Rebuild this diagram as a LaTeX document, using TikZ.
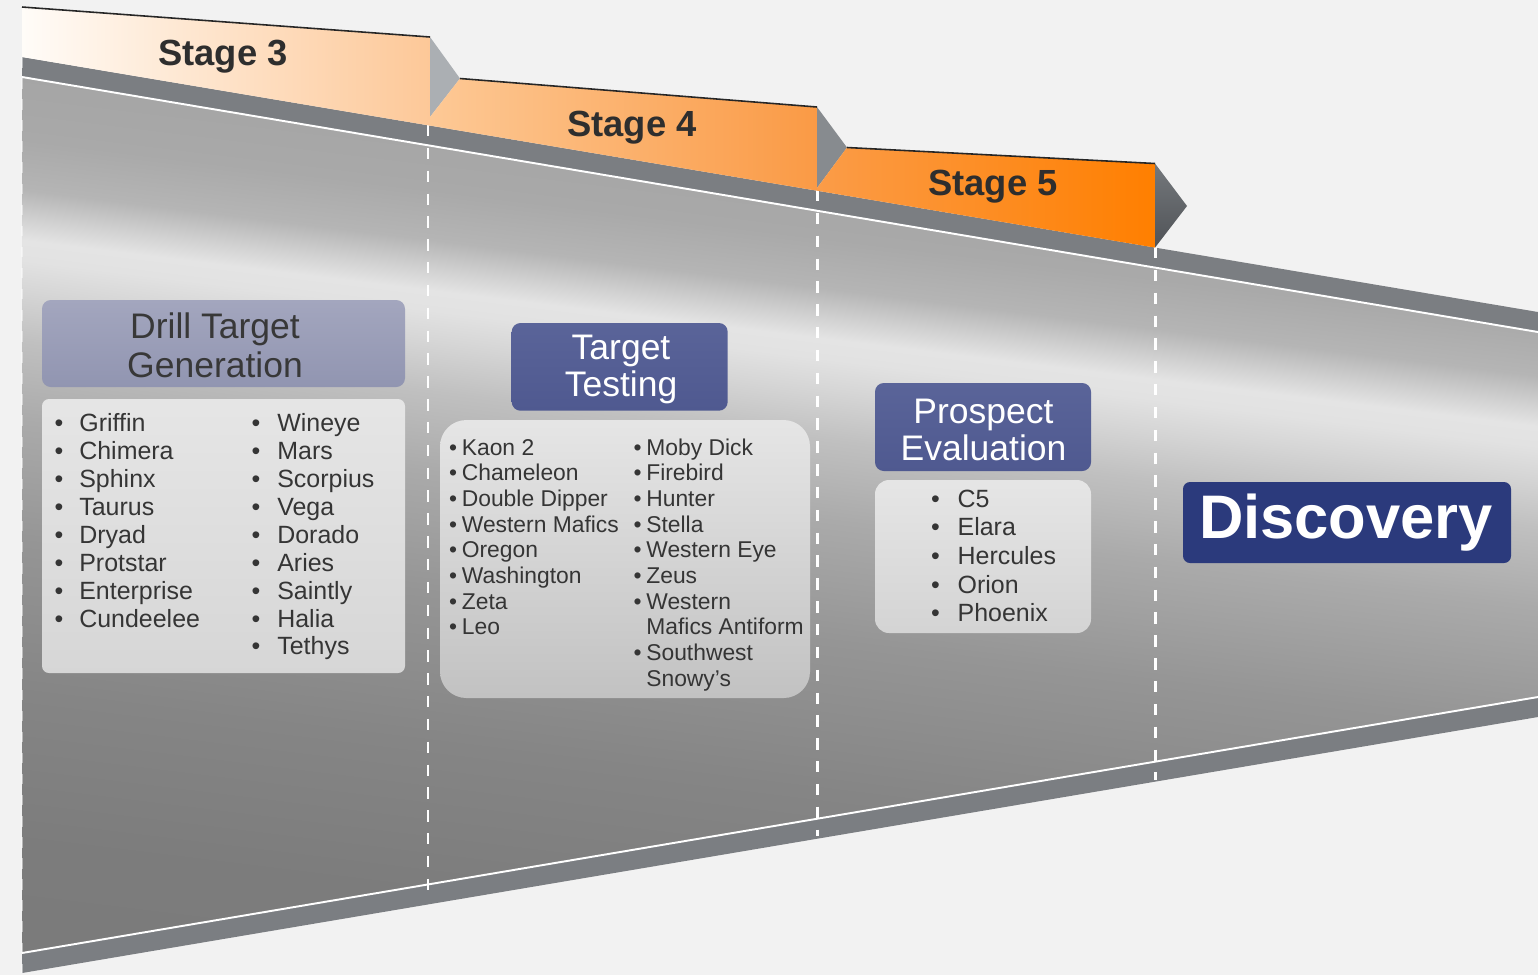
\documentclass[tikz,border=0pt]{standalone}
\usepackage{fontspec}
\setmainfont{Liberation Sans}
\usepackage{tikz}

\definecolor{pagebg}{HTML}{F2F2F2}
\definecolor{bandgray}{HTML}{7B7E82}
\definecolor{bA}{HTML}{787878}
\definecolor{bB}{HTML}{7C7C7C}
\definecolor{bC}{HTML}{858585}
\definecolor{bD}{HTML}{959595}
\definecolor{bE}{HTML}{AAAAAA}
\definecolor{bF}{HTML}{C0C0C0}
\definecolor{bG}{HTML}{D6D6D6}
\definecolor{bH}{HTML}{E2E2E2}
\definecolor{bI}{HTML}{E4E4E4}
\definecolor{bJ}{HTML}{D2D2D2}
\definecolor{bK}{HTML}{B5B5B5}
\definecolor{bL}{HTML}{A9A9A9}
\definecolor{bM}{HTML}{A5A5A5}
\definecolor{bN}{HTML}{A3A3A3}
\definecolor{st3a}{HTML}{FFFCF8}
\definecolor{st3b}{HTML}{FDC898}
\definecolor{st4a}{HTML}{FDC996}
\definecolor{st4b}{HTML}{FA9A45}
\definecolor{st5a}{HTML}{FB9C48}
\definecolor{st5b}{HTML}{FF7F00}
\definecolor{tri3}{HTML}{ABAFB3}
\definecolor{tri4}{HTML}{878B8F}
\definecolor{tri5a}{HTML}{74787C}
\definecolor{tri5b}{HTML}{505357}
\definecolor{hdrlav}{HTML}{A3A6BE}
\definecolor{hdrlavdk}{HTML}{9195B1}
\definecolor{hdrblue}{HTML}{5A6499}
\definecolor{hdrbluedk}{HTML}{4F5990}
\definecolor{discblue}{HTML}{2B3A7C}
\definecolor{inktext}{HTML}{353535}

% body of the funnel: light top, bright streak, darker bottom
\pgfdeclareverticalshading{bodyshade}{100bp}{%
  color(0bp)=(bA); color(25bp)=(bA); color(41.46bp)=(bB); color(47.71bp)=(bC);
  color(53.96bp)=(bD); color(58.96bp)=(bE); color(62.29bp)=(bF);
  color(64.38bp)=(bG); color(65.63bp)=(bH); color(66.46bp)=(bI);
  color(67.29bp)=(bJ); color(68.54bp)=(bK); color(70.63bp)=(bL);
  color(73.33bp)=(bM); color(75bp)=(bN); color(100bp)=(bN)}

\begin{document}
\begin{tikzpicture}[x=0.02cm, y=-0.02cm,
    divider/.style={white, line width=1.7pt, dash pattern=on 6.5pt off 6.5pt},
    tabedge/.style={draw=black!85, line width=0.9pt},
    stagelbl/.style={anchor=base, inner sep=0pt, text=black!82,
      font=\bfseries\fontsize{20.7}{24}\selectfont},
    hdrtxt/.style={anchor=base, inner sep=0pt, font=\fontsize{20.2}{24}\selectfont},
    listbox/.style={top color=black!10, bottom color=black!16},
    itemA/.style={anchor=base west, inner sep=0pt, text=inktext,
      font=\fontsize{14.2}{16}\selectfont},
    itemB/.style={anchor=base west, inner sep=0pt, text=inktext,
      font=\fontsize{13}{15}\selectfont},
    dotA/.style={anchor=base, inner sep=0pt, text=inktext,
      font=\fontsize{14.2}{16}\selectfont},
    dotB/.style={anchor=base, inner sep=0pt, text=inktext,
      font=\fontsize{13}{15}\selectfont}]
	\fill[pagebg] (0,0) rectangle (1538,975);
	\useasboundingbox (0,0) rectangle (1538,975);
	% funnel
	\fill[bandgray] (22,57) -- (1538,312) -- (1538,717) -- (22,973) -- cycle;
	\begin{scope}
	  \clip (22,77) -- (1538,332) -- (1538,697) -- (22,953) -- cycle;
	  \begin{scope}[transform canvas={rotate around={-7:(22,240)}}]
	    \shade[shading=bodyshade] (-300,35) rectangle (1900,1235);
	  \end{scope}
	\end{scope}
	\draw[white, line width=1.1pt] (22,77) -- (1538,332);
	\draw[white, line width=1.1pt] (22,953) -- (1538,697);
	\draw[white, opacity=.45, line width=1.2pt, dash pattern=on 6pt off 6pt] (22,57) -- (22,973);
	\draw[divider] (428,125) -- (428,895);
	\draw[divider] (817,190) -- (817,836);
	\draw[divider] (1155,247) -- (1155,780);
	% stages
	\shade[left color=st3a, right color=st3b] (22,7) -- (430,37) -- (430,125.6) -- (22,57) -- cycle;
	\draw[tabedge] (22,7) -- (430,37);
	\fill[tri3] (430,37) -- (460,78.5) -- (430,117) -- cycle;
	\shade[left color=st4a, right color=st4b] (430,117) -- (460,78.5) -- (817,107) -- (817,190.7) -- (430,125.6) -- cycle;
	\draw[tabedge] (460,78.5) -- (817,107);
	\fill[tri4] (817,107) -- (847,147.5) -- (817,188) -- cycle;
	\shade[left color=st5a, right color=st5b] (817,188) -- (847,147.5) -- (1155,163.5) -- (1155,247.6) -- (817,190.7) -- cycle;
	\draw[tabedge] (847,147.5) -- (1155,163.5);
	\shade[top color=tri5a, bottom color=tri5b] (1155,163.5) -- (1187,206) -- (1155,247.6) -- cycle;
	\node[stagelbl] (stage3) at (223,65) {Stage 3};
	\node[stagelbl] (stage4) at (632,136) {Stage 4};
	\node[stagelbl] (stage5) at (993,195) {Stage 5};
	% drill target generation
	\shade[top color=hdrlav, bottom color=hdrlavdk, rounded corners=5pt] (42,300) rectangle (405,387);
	\node[hdrtxt, text=black!78] (dtg1) at (215,338.3) {Drill Target};
	\node[hdrtxt, text=black!78] (dtg2) at (215,377.3) {Generation};
	\shade[listbox, rounded corners=4pt] (42,399) rectangle (405,673);
	\foreach \nm [count=\i from 0] in {Griffin,Chimera,Sphinx,Taurus,Dryad,Protstar,Enterprise,Cundeelee} {
	  \node[dotA] (dgLb\i) at (59,431.7+27.9*\i) {\textbullet};
	  \node[itemA] (dgL\i) at (79,431.7+27.9*\i) {\nm};
	}
	\foreach \nm [count=\i from 0] in {Wineye,Mars,Scorpius,Vega,Dorado,Aries,Saintly,Halia,Tethys} {
	  \node[dotA] (dgRb\i) at (256,431.7+27.9*\i) {\textbullet};
	  \node[itemA] (dgR\i) at (277,431.7+27.9*\i) {\nm};
	}
	% target testing
	\shade[top color=hdrblue, bottom color=hdrbluedk, rounded corners=5pt] (511.7,323) rectangle (727.7,410.7);
	\node[hdrtxt, text=white] (tt1) at (621,359.3) {Target};
	\node[hdrtxt, text=white] (tt2) at (621,396) {Testing};
	\shade[top color=black!10, bottom color=black!24, rounded corners=15pt] (440,420) rectangle (810,698);
	\foreach \nm [count=\i from 0] in {Kaon 2,Chameleon,Double Dipper,Western Mafics,Oregon,Washington,Zeta,Leo} {
	  \node[dotB] (ttLb\i) at (453,455+25.7*\i) {\textbullet};
	  \node[itemB] (ttL\i) at (461.5,455+25.7*\i) {\nm};
	}
	\foreach \nm [count=\i from 0] in {Moby Dick,Firebird,Hunter,Stella,Western Eye,Zeus,Western,Mafics Antiform,Southwest,Snowy's} {
	  \node[itemB] (ttR\i) at (646,455+25.7*\i) {\nm};
	}
	\foreach \i in {0,...,6,8} {
	  \node[dotB] (ttRb\i) at (637.5,455+25.7*\i) {\textbullet};
	}
	% prospect evaluation
	\shade[top color=hdrblue, bottom color=hdrbluedk, rounded corners=5pt] (875,383) rectangle (1091,471);
	\node[hdrtxt, text=white] (pe1) at (983.5,423) {Prospect};
	\node[hdrtxt, text=white] (pe2) at (983.5,460) {Evaluation};
	\shade[top color=black!10, bottom color=black!17, rounded corners=8pt] (875,480) rectangle (1091,633);
	\foreach \nm [count=\i from 0] in {C5,Elara,Hercules,Orion,Phoenix} {
	  \node[dotA] (peb\i) at (935.5,507.3+28.6*\i) {\textbullet};
	  \node[itemA] (pe\i) at (957.3,507.3+28.6*\i) {\nm};
	}
	% discovery
	\fill[discblue, rounded corners=4pt] (1183,482) rectangle (1511,563);
	\node[anchor=base, inner sep=0pt, text=white, font=\bfseries\fontsize{35}{40}\selectfont] (disc) at (1346,538) {Discovery};
\end{tikzpicture}
\end{document}
